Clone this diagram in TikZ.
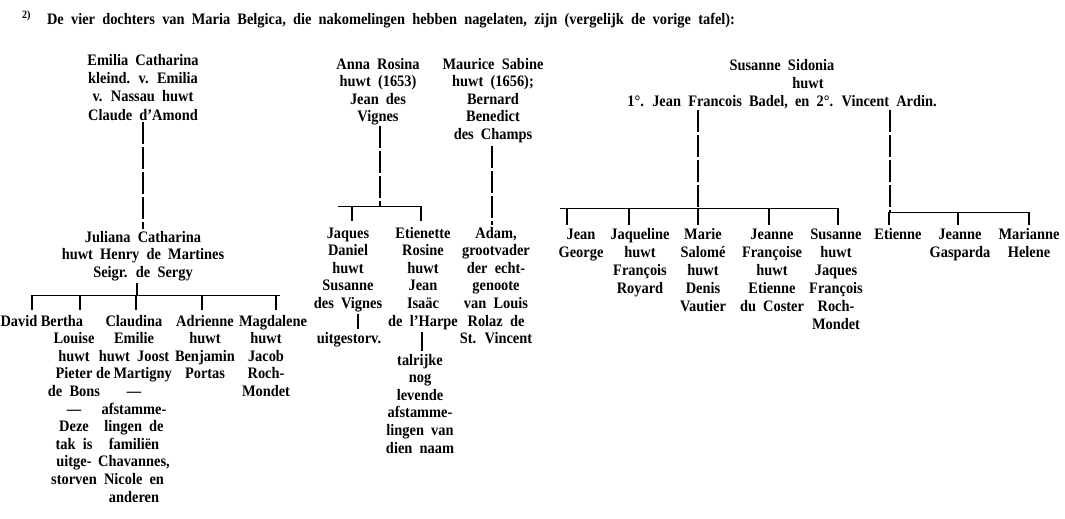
\documentclass[tikz,border=0pt]{standalone}
\usepackage{fontspec}
\setmainfont{Liberation Serif}[FakeStretch=0.9]
\newcommand\wsp{\spaceskip=0.45em plus 0.1em\relax}
\begin{document}
\begin{tikzpicture}[x=1pt,y=-1pt,
  txt/.style={font={\bfseries\fontsize{16}{17.6}\selectfont\wsp}, align=center, inner sep=0pt, anchor=base},
  wide/.style={font={\bfseries\fontsize{16}{18.1}\selectfont\wsp}},
  stem/.style={line width=1.6pt, dash pattern=on 22pt off 3pt},
  bus/.style={line width=0.8pt},
  tick/.style={line width=1.1pt}]
\useasboundingbox (0,0) rectangle (1065,519);

% header
\node[txt, anchor=base west] (head) at (22,25)
  {\textsuperscript{2)}\hspace{16pt}De vier dochters van Maria Belgica, die nakomelingen hebben nagelaten, zijn (vergelijk de vorige tafel):};

% ---------- column 1 ----------
\node[txt, wide] (emilia) at (143,{66+3*18})
  {Emilia Catharina\\kleind. v. Emilia\\v. Nassau huwt\\Claude d'Amond};
\node[txt] (juliana) at (143,{242+2*17.6})
  {Juliana Catharina\\huwt Henry de Martines\\Seigr. de Sergy};
\draw[stem] ([yshift=-2pt]emilia.south) -- ([yshift=2pt]juliana.north);

\coordinate (jt) at (137,283);
\coordinate (b1l) at (32,295);
\coordinate (b1r) at (280,295);
\draw[tick] (jt) -- (jt |- b1l);
\draw[bus] (b1l) -- (b1r);

\node[txt] (david) at (19,326) {David};
\node[txt] (bertha) at (74,{326+9*17.6})
  {Bertha\hspace*{24pt}\\Louise\\huwt\\Pieter\\de Bons\\---\\Deze\\tak is\\uitge-\\storven};
\node[txt] (claudina) at (134,{326+10*17.6})
  {Claudina\\Emilie\\huwt Joost\\de\hspace{3pt}Martigny\\---\\afstamme-\\lingen de\\familiën\\Chavannes,\\Nicole en\\anderen};
\node[txt] (adrienne) at (205,{326+3*17.6}) {Adrienne\\huwt\\Benjamin\\Portas};
\node[txt] (magdalene) at (266,{326+4*17.6}) {\hspace*{14pt}Magdalene\\huwt\\Jacob\\Roch-\\Mondet};

\foreach \x in {32, 80, 136, 202, 276}
  \draw[tick] (\x,295) -- (\x,310);

% ---------- column 2 ----------
\node[txt] (anna) at (378,{69+3*17.6}) {Anna Rosina\\huwt (1653)\\Jean des\\Vignes};
\coordinate (b2l) at (338,206);
\coordinate (b2r) at (422,206);
\coordinate (b2m) at (380,206);
\draw[stem] (anna.south -| b2m) -- (b2m);
\draw[bus] (b2l) -- (b2r);

\node[txt] (jaques) at (348,{238+4*17.6}) {Jaques\\Daniel\\huwt\\Susanne\\des Vignes};
\node[txt] (jaquesend) at (349,343) {uitgestorv.};
\node[txt] (etienette) at (423,{238+5*17.6}) {Etienette\\Rosine\\huwt\\Jean\\Isaäc\\de l'Harpe};
\node[txt] (talrijk) at (420,{365+5*17.6}) {talrijke\\nog\\levende\\afstamme-\\lingen van\\dien naam};

\draw[tick] (352,206) -- (352,221);
\draw[tick] (421,206) -- (421,221);
\draw[tick] ([yshift=-2pt]jaques.south -| 358,0) -- ([yshift=3pt]jaquesend.north -| 358,0);
\draw[tick] ([yshift=-2pt]etienette.south -| 422,0) -- ([yshift=3pt]talrijk.north -| 422,0);

\node[txt] (maurice) at (493,{69+4*17.6}) {Maurice Sabine\\huwt (1656);\\Bernard\\Benedict\\des Champs};
\node[txt] (adam) at (496,{238+6*17.6}) {Adam,\\grootvader\\der echt-\\genoote\\van Louis\\Rolaz de\\St. Vincent};
\draw[stem] ([yshift=-3pt]maurice.south -| 492,0) -- ([yshift=2pt]adam.north -| 492,0);

% ---------- Susanne Sidonia ----------
\node[txt, wide] (susanne) at (782,{70+2*18.1})
  {Susanne Sidonia\\\hspace*{52pt}huwt\\1°. Jean Francois Badel, en 2°. Vincent Ardin.};
\coordinate (s1) at (698,208);
\coordinate (s2) at (890,212);
\draw[stem] ([yshift=-1pt]susanne.south -| s1) -- (s1);
\draw[stem] ([yshift=-1pt]susanne.south -| s2) -- (s2);
\draw[bus] (560,208) coordinate (b3l) -- (837,208) coordinate (b3r);
\draw[bus] (s2) -- (1030,212) coordinate (b4r);

\node[txt, wide] (jean) at (581,{239+18.1}) {Jean\\George};
\node[txt, wide] (jaqueline) at (640,{239+3*18.1}) {Jaqueline\\huwt\\François\\Royard};
\node[txt, wide] (marie) at (703,{239+4*18.1}) {Marie\\Salomé\\huwt\\Denis\\Vautier};
\node[txt, wide] (jeannef) at (772,{239+4*18.1}) {Jeanne\\Françoise\\huwt\\Etienne\\du Coster};
\node[txt, wide] (susanneh) at (836,{239+5*18.1}) {Susanne\\huwt\\Jaques\\François\\Roch-\\Mondet};
\node[txt, wide] (etienne) at (898,239) {Etienne};
\node[txt, wide] (jeanneg) at (960,{239+18.1}) {Jeanne\\Gasparda};
\node[txt, wide] (marianne) at (1029,{239+18.1}) {Marianne\\Helene};

\foreach \x in {567,629,698,769,838}
  \draw[tick] (\x,208) -- (\x,225);
\foreach \x in {889,958,1029}
  \draw[tick] (\x,212) -- (\x,225);
\end{tikzpicture}
\end{document}
